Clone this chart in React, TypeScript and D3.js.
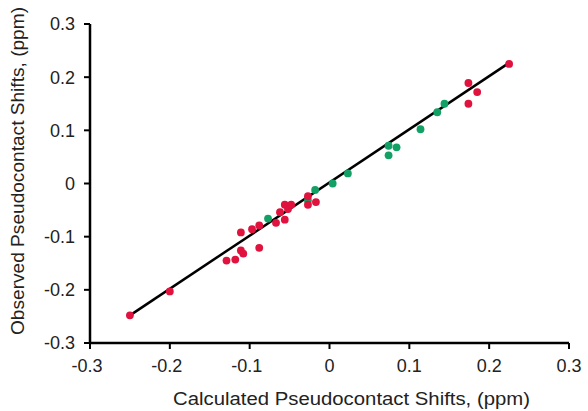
import React from "react";
import * as d3 from "d3";

const xTicks = [-0.3, -0.2, -0.1, 0, 0.1, 0.2, 0.3];
const yTicks = [-0.3, -0.2, -0.1, 0, 0.1, 0.2, 0.3];
const tickLabels = ["-0.3", "-0.2", "-0.1", "0", "0.1", "0.2", "0.3"];

// red series: calculated (x) vs observed (y)
const redX = [-0.25, -0.2, -0.129, -0.118, -0.111, -0.108, -0.088, -0.111, -0.097, -0.088, -0.067, -0.056, -0.062, -0.056, -0.052, -0.048, -0.027, -0.027, -0.017, 0.225, 0.174, 0.185, 0.174];
const redY = [-0.248, -0.203, -0.145, -0.143, -0.126, -0.132, -0.121, -0.092, -0.086, -0.079, -0.074, -0.068, -0.054, -0.04, -0.048, -0.04, -0.024, -0.04, -0.035, 0.225, 0.189, 0.172, 0.15];

// green series
const greenX = [-0.077, -0.027, -0.018, 0.004, 0.023, 0.074, 0.084, 0.074, 0.114, 0.135, 0.144];
const greenY = [-0.066, -0.032, -0.012, 0.0, 0.019, 0.071, 0.068, 0.053, 0.102, 0.134, 0.15];

// fitted line endpoints
const lineX = [-0.25, 0.224];
const lineY = [-0.248, 0.226];

const W = 588;
const H = 411;

export default function App() {
  const x = d3.scaleLinear().domain([-0.3, 0.3]).range([90, 569]);
  const y = d3.scaleLinear().domain([-0.3, 0.3]).range([343, 24]);
  const line = d3
    .line<number>()
    .x((d, i) => x(lineX[i]))
    .y((d, i) => y(lineY[i]));
  const font = "'Liberation Sans', Arial, Helvetica, sans-serif";
  const red = "#e0123e";
  const green = "#12a064";
  return (
    <div style={{ position: "absolute", left: 0, top: 0 }}>
      <svg width={W} height={H} style={{ display: "block", background: "#fff" }}>
        <rect x={0} y={0} width={W} height={H} fill="#fff" />
        {/* axes */}
        <line x1={x(-0.3)} x2={x(-0.3)} y1={y(0.3)} y2={y(-0.3) + 1} stroke="#000" strokeWidth={2.5} />
        <line x1={x(-0.3) - 1} x2={x(0.3)} y1={y(-0.3)} y2={y(-0.3)} stroke="#000" strokeWidth={2.5} />
        {yTicks.map((t, i) => (
          <g key={"y" + i}>
            <line x1={x(-0.3) - 6} x2={x(-0.3)} y1={y(t)} y2={y(t)} stroke="#000" strokeWidth={2} />
            <text
              x={x(-0.3) - 15}
              y={y(t)}
              dy="0.36em"
              textAnchor="end"
              fontFamily={font}
              fontSize={18}
              fill="#222"
            >
              {tickLabels[i]}
            </text>
          </g>
        ))}
        {xTicks.map((t, i) => (
          <g key={"x" + i}>
            <line x1={x(t)} x2={x(t)} y1={y(-0.3)} y2={y(-0.3) + 6} stroke="#000" strokeWidth={2} />
            <text
              x={x(t) + (t < 0 ? -3 : 0)}
              y={y(-0.3) + 29}
              textAnchor="middle"
              fontFamily={font}
              fontSize={18}
              fill="#222"
            >
              {tickLabels[i]}
            </text>
          </g>
        ))}
        <text
          x={(x(-0.3) + x(0.3)) / 2 + 22}
          y={y(-0.3) + 62}
          textAnchor="middle"
          fontFamily={font}
          fontSize={17.5}
          fill="#222"
          textLength={357}
          lengthAdjust="spacingAndGlyphs"
        >
          Calculated Pseudocontact Shifts, (ppm)
        </text>
        <text
          transform={`translate(24, 171) rotate(-90)`}
          textAnchor="middle"
          fontFamily={font}
          fontSize={17.5}
          fill="#222"
          textLength={328}
          lengthAdjust="spacingAndGlyphs"
        >
          Observed Pseudocontact Shifts, (ppm)
        </text>
        {/* fit line */}
        <path d={line(lineX) || ""} fill="none" stroke="#000" strokeWidth={2.5} />
        {/* points */}
        {greenX.map((v, i) => (
          <circle key={"g" + i} cx={x(v)} cy={y(greenY[i])} r={3.9} fill={green} />
        ))}
        {redX.map((v, i) => (
          <circle key={"r" + i} cx={x(v)} cy={y(redY[i])} r={3.9} fill={red} />
        ))}
      </svg>
    </div>
  );
}
